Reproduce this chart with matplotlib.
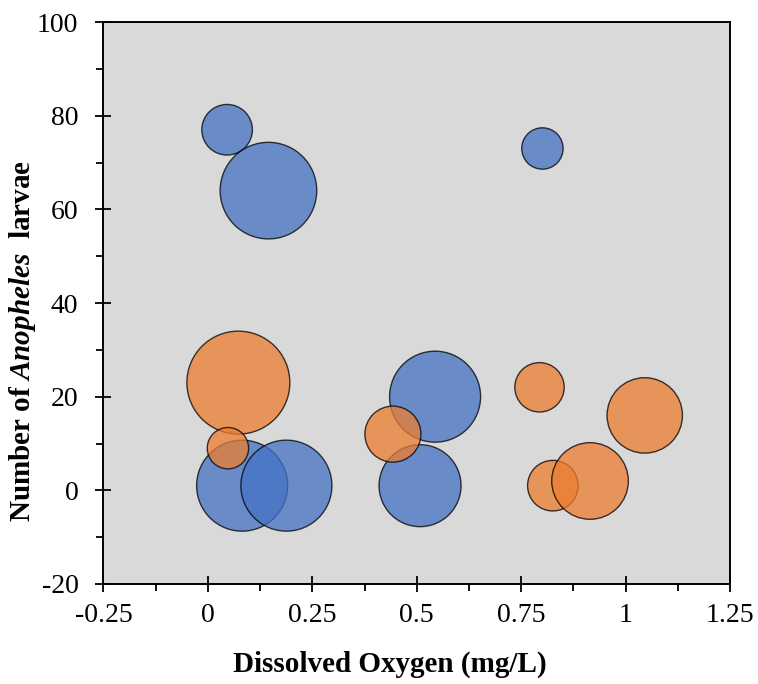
import matplotlib.pyplot as plt
from matplotlib.ticker import AutoMinorLocator, MultipleLocator

plt.rcParams["font.family"] = ["Liberation Serif", "DejaVu Serif"]
plt.rcParams["mathtext.fontset"] = "custom"
plt.rcParams["mathtext.it"] = "Liberation Serif:italic:bold"
plt.rcParams["mathtext.rm"] = "Liberation Serif:bold"
plt.rcParams["axes.unicode_minus"] = False

# series 1 (blue)
do_blue = [0.046, 0.145, 0.801, 0.544, 0.082, 0.188, 0.508]
larvae_blue = [77, 64, 73, 20, 1, 1, 1]
size_blue = [25.6, 93.3, 17.1, 82.8, 82.8, 82.8, 67.2]

# series 2 (orange)
do_orange = [0.073, 0.048, 0.443, 0.794, 1.046, 0.826, 0.915]
larvae_orange = [23, 9, 12, 22, 16, 1, 2]
size_orange = [106.0, 17.1, 31.4, 24.4, 56.9, 25.6, 58.7]

xticks = [-0.25, 0, 0.25, 0.5, 0.75, 1, 1.25]
xticklabels = ["-0.25", "0", "0.25", "0.5", "0.75", "1", "1.25"]

scale = 51.84  # bubble size -> marker area (pt^2)

fig = plt.figure(figsize=(7.58, 6.84), dpi=100)
ax = fig.add_axes([0.1365, 0.1462, 0.8265, 0.8216])
ax.set_facecolor("#D9D9D9")

ax.scatter(do_blue, larvae_blue, s=[v * scale for v in size_blue],
           color="#4472C4", alpha=0.75, edgecolors="black", linewidths=1.0, zorder=2)
ax.scatter(do_orange, larvae_orange, s=[v * scale for v in size_orange],
           color="#ED7D31", alpha=0.75, edgecolors="black", linewidths=1.0, zorder=3)

ax.set_xlim(-0.25, 1.25)
ax.set_ylim(-20, 100)
ax.set_xticks(xticks)
ax.set_xticklabels(xticklabels)
ax.yaxis.set_major_locator(MultipleLocator(20))
ax.xaxis.set_minor_locator(AutoMinorLocator(2))
ax.yaxis.set_minor_locator(AutoMinorLocator(2))

ax.tick_params(which="major", direction="inout", length=12, width=1.3, labelsize=20)
ax.tick_params(axis="x", which="major", pad=8)
ax.tick_params(axis="y", which="major", pad=12)
ax.tick_params(which="minor", direction="out", length=5, width=1.3)
for sp in ax.spines.values():
    sp.set_linewidth(1.4)
    sp.set_color("black")

ax.set_xlabel("Dissolved Oxygen (mg/L)", fontsize=21, fontweight="bold")
ax.xaxis.set_label_coords(0.457, -0.118)
ax.set_ylabel(r"Number of $\it{Anopheles}$  larvae", fontsize=21, fontweight="bold")
ax.yaxis.set_label_coords(-0.105, 0.432)

fig.savefig("out.png", dpi=100)
